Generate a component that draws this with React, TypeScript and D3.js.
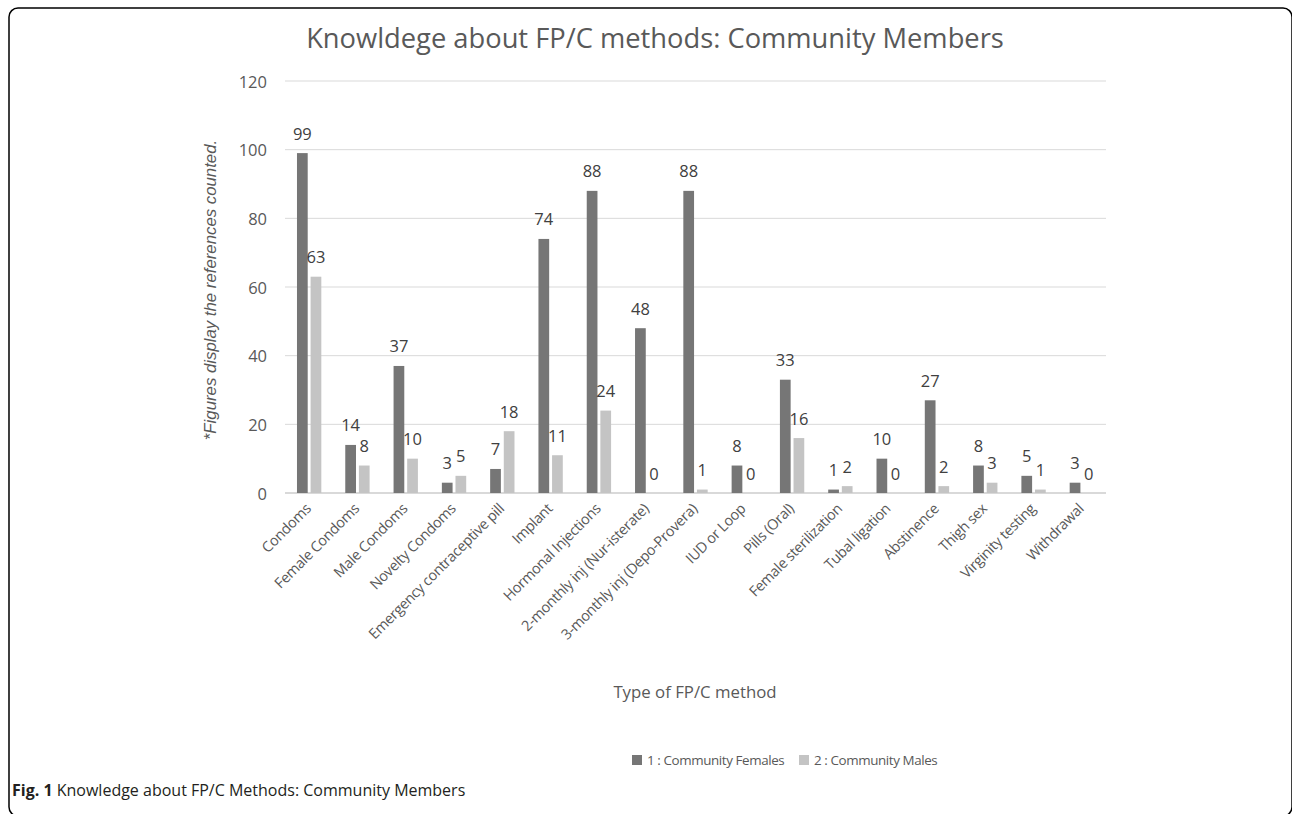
import * as d3 from 'd3';

const categories = [
  'Condoms',
  'Female Condoms',
  'Male Condoms',
  'Novelty Condoms',
  'Emergency contraceptive pill',
  'Implant',
  'Hormonal Injections',
  '2-monthly inj (Nur-isterate)',
  '3-monthly inj (Depo-Provera)',
  'IUD or Loop',
  'Pills (Oral)',
  'Female sterilization',
  'Tubal ligation',
  'Abstinence',
  'Thigh sex',
  'Virginity testing',
  'Withdrawal',
];
const females = [99, 14, 37, 3, 7, 74, 88, 48, 88, 8, 33, 1, 10, 27, 8, 5, 3];
const males = [63, 8, 10, 5, 18, 11, 24, 0, 1, 0, 16, 2, 0, 2, 3, 1, 0];
const yTicks = [0, 20, 40, 60, 80, 100, 120];
const seriesNames = ['1 : Community Females', '2 : Community Males'];
const seriesColors = ['#767676', '#c4c4c4'];

const W = 1292;
const H = 814;
const margin = { top: 81, right: 186, bottom: 321, left: 285 };
const textColor = '#595959';
const font = '"Open Sans", sans-serif';

export default function App() {
  const x = d3.scaleBand<string>()
    .domain(categories)
    .range([margin.left, W - margin.right]);
  const y = d3.scaleLinear()
    .domain([0, 120])
    .range([H - margin.bottom, margin.top]);

  const barW = x.bandwidth() * 0.222;
  const gap = x.bandwidth() * 0.06;
  const series = [females, males];

  return (
    <div style={{ position: 'absolute', left: 0, top: 0 }}>
      <svg width={W} height={H} style={{ display: 'block', background: '#fff' }}>
        {/* frame, cut off at the right and bottom like the scan */}
        <rect x={9} y={8} width={1283} height={808} rx={9} fill="none" stroke="#000" strokeWidth={1.5} />

        <text x={655} y={37} textAnchor="middle" dominantBaseline="central"
          style={{ fontFamily: font, fontSize: 27.3, fill: textColor }}>
          Knowldege about FP/C methods: Community Members
        </text>

        {/* gridlines + y ticks */}
        {yTicks.map(t => (
          <g key={t}>
            <line x1={margin.left} x2={W - margin.right} y1={y(t)} y2={y(t)}
              stroke="#d9d9d9" strokeWidth={t === 0 ? 1.8 : 1} />
            <text x={267} y={y(t)} textAnchor="end" dominantBaseline="central"
              style={{ fontFamily: font, fontSize: 16.5, fill: textColor }}>
              {t}
            </text>
          </g>
        ))}

        <text transform={`translate(210,290) rotate(-90)`} textAnchor="middle" dominantBaseline="central"
          style={{ fontFamily: '"Liberation Sans", Arial, sans-serif', fontStyle: 'italic', fontSize: 16.8, fill: textColor }}>
          *Figures display the references counted.
        </text>

        {/* bars */}
        {series.map((vals, s) => (
          <g key={s}>
            {vals.map((v, i) => {
              const cx = (x(categories[i]) as number) + x.bandwidth() / 2;
              const bx = s === 0 ? cx - gap / 2 - barW : cx + gap / 2;
              return (
                <g key={i}>
                  <rect x={bx} y={y(v)} width={barW} height={y(0) - y(v)} fill={seriesColors[s]} />
                  <text x={bx + barW / 2} y={y(v) - 20} textAnchor="middle" dominantBaseline="central"
                    style={{ fontFamily: font, fontSize: 16.5, fill: '#404040' }}>
                    {v}
                  </text>
                </g>
              );
            })}
          </g>
        ))}

        {/* x labels */}
        {categories.map(c => {
          const cx = (x(c) as number) + x.bandwidth() / 2;
          return (
            <text key={c} transform={`translate(${cx - 5},${y(0) + 9}) rotate(-45)`} textAnchor="end" dy="0.75em"
              style={{ fontFamily: font, fontSize: 14.5, letterSpacing: -0.35, fill: textColor }}>
              {c}
            </text>
          );
        })}

        <text x={695} y={691} textAnchor="middle" dominantBaseline="central"
          style={{ fontFamily: font, fontSize: 16.8, fill: textColor }}>
          Type of FP/C method
        </text>

        {/* legend */}
        {seriesNames.map((n, s) => (
          <g key={n} transform={`translate(${s === 0 ? 632 : 799},760)`}>
            <rect x={0} y={-5} width={10} height={10} fill={seriesColors[s]} />
            <text x={15} y={0} dominantBaseline="central"
              style={{ fontFamily: font, fontSize: 13.4, letterSpacing: -0.4, fill: textColor }}>
              {n}
            </text>
          </g>
        ))}

        {/* caption */}
        <text x={12} y={790} dominantBaseline="central"
          style={{ fontFamily: font, fontSize: 16, fill: '#231f20' }}>
          <tspan fontWeight="bold">Fig. 1</tspan> Knowledge about FP/C Methods: Community Members
        </text>
      </svg>
    </div>
  );
}
